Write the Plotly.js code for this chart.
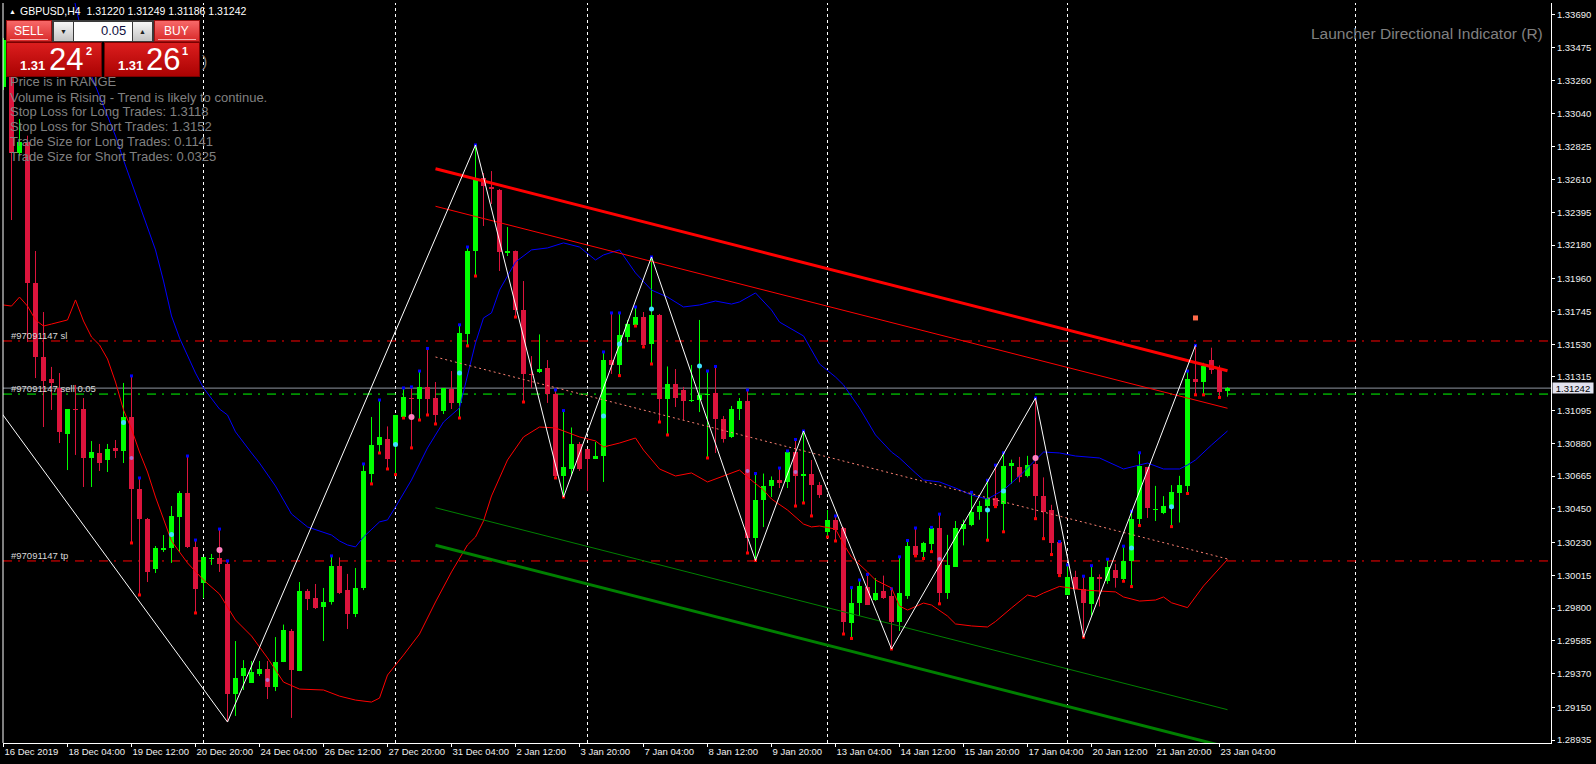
<!DOCTYPE html>
<html><head><meta charset="utf-8">
<script src="https://cdn.plot.ly/plotly-3.0.1.min.js"></script>
<style>html,body{margin:0;padding:0;background:#000;overflow:hidden}#chart{width:1596px;height:764px}</style>
</head><body><div id="chart"></div>
<script>
// ---------------- DATA (GBPUSD H4) ----------------
const xLabels = ["16 Dec 2019","18 Dec 04:00","19 Dec 12:00","20 Dec 20:00","24 Dec 04:00","26 Dec 12:00","27 Dec 20:00","31 Dec 04:00","2 Jan 12:00","3 Jan 20:00","7 Jan 04:00","8 Jan 12:00","9 Jan 20:00","13 Jan 04:00","14 Jan 12:00","15 Jan 20:00","17 Jan 04:00","20 Jan 12:00","21 Jan 20:00","23 Jan 04:00"];
const xLabelIdx = [0,8,16,24,32,40,48,56,64,72,80,88,96,104,112,120,128,136,144,152];
const yTickVals = [1.33690,1.33475,1.33260,1.33040,1.32825,1.32610,1.32395,1.32180,1.31960,1.31745,1.31530,1.31315,1.31095,1.30880,1.30665,1.30450,1.30230,1.30015,1.29800,1.29585,1.29370,1.29150,1.28935];

const openP = [1.33216,1.33511,1.32783,1.32856,1.31931,1.31446,1.31302,1.31243,1.30941,1.31105,1.31105,1.30784,1.30817,1.30771,1.30850,1.30830,1.31053,1.30581,1.30384,1.30056,1.30181,1.30194,1.30397,1.30555,1.30201,1.29965,1.30122,1.30129,1.30089,1.29237,1.29355,1.29312,1.29368,1.29401,1.29282,1.29446,1.29650,1.29387,1.29912,1.29866,1.29807,1.29840,1.30076,1.29918,1.29761,1.29932,1.30682,1.30869,1.30909,1.30869,1.31053,1.31177,1.31174,1.31250,1.31177,1.31095,1.31236,1.31145,1.31598,1.32141,1.32620,1.32561,1.32544,1.32131,1.32141,1.31754,1.31335,1.31348,1.31374,1.31204,1.30663,1.30712,1.30876,1.30843,1.30777,1.30797,1.31426,1.31394,1.31577,1.31656,1.31708,1.31531,1.31721,1.31171,1.31269,1.31230,1.31158,1.31164,1.31197,1.31213,1.31040,1.30922,1.31105,1.31158,1.30260,1.30509,1.30600,1.30640,1.30627,1.30823,1.30669,1.30682,1.30607,1.30299,1.30378,1.30322,1.29704,1.29831,1.29941,1.29855,1.29909,1.29880,1.29706,1.29880,1.30206,1.30170,1.30219,1.30322,1.29897,1.30070,1.30317,1.30342,1.30428,1.30467,1.30524,1.30482,1.30730,1.30724,1.30663,1.30744,1.30534,1.30440,1.30231,1.29885,1.30001,1.29927,1.29828,1.30001,1.29976,1.30053,1.29991,1.30112,1.30386,1.30724,1.30443,1.30423,1.30457,1.30556,1.30601,1.31304,1.31280,1.31428,1.31374,1.31220];
const highP = [1.33537,1.33557,1.33006,1.32897,1.32141,1.31741,1.31381,1.31341,1.31105,1.31263,1.31177,1.30895,1.30876,1.30876,1.30902,1.31276,1.31322,1.30653,1.30391,1.30207,1.30279,1.30469,1.30568,1.30797,1.30246,1.30135,1.30155,1.30318,1.30109,1.29584,1.29459,1.29453,1.29453,1.29453,1.29610,1.29692,1.29663,1.29971,1.29925,1.29958,1.29932,1.30142,1.30132,1.30024,1.30063,1.30745,1.31053,1.31164,1.30991,1.31066,1.31243,1.31250,1.31354,1.31502,1.31282,1.31243,1.31354,1.31657,1.32167,1.32836,1.32652,1.32665,1.32547,1.32298,1.32144,1.31944,1.31452,1.31594,1.31426,1.31230,1.31095,1.30984,1.30889,1.30843,1.30889,1.31479,1.31735,1.31735,1.31689,1.31774,1.31741,1.32102,1.31728,1.31384,1.31367,1.31250,1.31394,1.31689,1.31354,1.31384,1.31059,1.31125,1.31177,1.31230,1.30682,1.30682,1.30663,1.30718,1.30830,1.30905,1.30961,1.30771,1.30627,1.30443,1.30404,1.30331,1.29934,1.29984,1.30021,1.29997,1.30013,1.29927,1.30136,1.30243,1.30325,1.30234,1.30329,1.30416,1.30280,1.30371,1.30379,1.30559,1.30502,1.30638,1.30737,1.30818,1.30773,1.30791,1.30798,1.31177,1.30657,1.30477,1.30236,1.30083,1.30045,1.30009,1.30078,1.30021,1.30120,1.30090,1.30206,1.30435,1.30818,1.30725,1.30601,1.30534,1.30606,1.30667,1.31354,1.31522,1.31408,1.31507,1.31391,1.31249];
const lowP = [1.33196,1.32344,1.32770,1.31544,1.31308,1.30987,1.31099,1.30882,1.30705,1.30804,1.30594,1.30594,1.30699,1.30692,1.30784,1.30751,1.30227,1.29886,1.29971,1.30030,1.30168,1.30096,1.30168,1.30194,1.29768,1.29866,1.30083,1.30037,1.29053,1.29093,1.29263,1.29309,1.29355,1.29204,1.29256,1.29446,1.29080,1.29387,1.29787,1.29794,1.29584,1.29823,1.29892,1.29663,1.29741,1.29918,1.30614,1.30817,1.30712,1.30675,1.31046,1.30850,1.31033,1.31066,1.31007,1.31072,1.31105,1.31046,1.31519,1.31977,1.32305,1.32449,1.32010,1.32108,1.31708,1.31151,1.31243,1.31341,1.31145,1.30653,1.30528,1.30666,1.30699,1.30568,1.30777,1.30627,1.31335,1.31324,1.31544,1.31649,1.31512,1.31400,1.31020,1.30935,1.31118,1.31033,1.31151,1.31085,1.30784,1.30817,1.30885,1.30915,1.31033,1.30161,1.30112,1.30331,1.30528,1.30587,1.30587,1.30469,1.30489,1.30404,1.30522,1.30266,1.30240,1.29630,1.29601,1.29748,1.29820,1.29848,1.29860,1.29532,1.29650,1.29860,1.30142,1.30125,1.30170,1.29828,1.29860,1.30070,1.30211,1.30337,1.30379,1.30245,1.30465,1.30300,1.30614,1.30625,1.30657,1.30386,1.30255,1.30151,1.30013,1.29885,1.29922,1.29609,1.29749,1.29811,1.29959,1.29934,1.29976,1.29941,1.30341,1.30391,1.30371,1.30416,1.30334,1.30361,1.30551,1.31198,1.31198,1.31335,1.31181,1.31186];
const closeP = [1.33524,1.32786,1.32856,1.31931,1.31446,1.31289,1.31276,1.30955,1.31105,1.31099,1.30784,1.30823,1.30751,1.30843,1.30830,1.31053,1.30581,1.30384,1.30037,1.30194,1.30194,1.30404,1.30555,1.30201,1.29925,1.30135,1.30129,1.30089,1.29237,1.29342,1.29407,1.29381,1.29401,1.29282,1.29446,1.29656,1.29394,1.29912,1.29860,1.29800,1.29843,1.30076,1.29902,1.29761,1.29934,1.30699,1.30869,1.30922,1.30777,1.31066,1.31184,1.31171,1.31250,1.31171,1.31066,1.31243,1.31145,1.31604,1.32141,1.32620,1.32567,1.32547,1.32132,1.32138,1.31754,1.31335,1.31328,1.31367,1.31206,1.30663,1.30722,1.30878,1.30712,1.30777,1.30797,1.31426,1.31394,1.31590,1.31662,1.31708,1.31525,1.31721,1.31171,1.31269,1.31177,1.31158,1.31164,1.31197,1.31204,1.31040,1.30909,1.31105,1.31158,1.30260,1.30509,1.30600,1.30640,1.30620,1.30823,1.30666,1.30675,1.30607,1.30544,1.30378,1.30312,1.29712,1.29836,1.29947,1.29823,1.29902,1.29868,1.29706,1.29897,1.30206,1.30149,1.30226,1.30322,1.29897,1.30083,1.30322,1.30354,1.30433,1.30470,1.30524,1.30470,1.30730,1.30749,1.30657,1.30741,1.30534,1.30433,1.30226,1.30021,1.30001,1.29927,1.29836,1.30001,1.29994,1.30070,1.29996,1.30112,1.30386,1.30730,1.30453,1.30446,1.30470,1.30564,1.30606,1.31300,1.31280,1.31384,1.31362,1.31218,1.31242];

// moving-average style bands
const blueIdx = [8,9,10,11,12,13,14,15,16,17,18,19,20,21,22,24,25,27,28,29,31,32,34,36,38,41,42,43,44,45,47,48,49,51,53,55,57,58,59,60,61,62,64,66,68,70,72,74,75,77,79,81,83,85,87,89,91,92,94,96,97,100,102,104,105,107,109,111,112,114,115,117,119,121,123,125,127,130,132,134,137,140,143,145,147,148,149,151,153];
const blueVal = [1.33983,1.33754,1.33511,1.33288,1.33157,1.33026,1.32895,1.32737,1.32593,1.32443,1.32292,1.32148,1.31944,1.31715,1.31571,1.31341,1.31243,1.31105,1.31066,1.30955,1.30817,1.30751,1.30600,1.30417,1.30332,1.30279,1.30240,1.30214,1.30201,1.30266,1.30365,1.30378,1.30463,1.30640,1.30850,1.31020,1.31112,1.31328,1.31538,1.31702,1.31735,1.31885,1.32069,1.32148,1.32161,1.32194,1.32167,1.32082,1.32115,1.32148,1.31997,1.31885,1.31839,1.31774,1.31787,1.31813,1.31793,1.31807,1.31866,1.31754,1.31675,1.31584,1.31400,1.31315,1.31263,1.31112,1.30935,1.30823,1.30784,1.30686,1.30640,1.30627,1.30587,1.30541,1.30515,1.30574,1.30666,1.30823,1.30817,1.30797,1.30784,1.30712,1.30751,1.30712,1.30712,1.30738,1.30771,1.30869,1.30961];
const redIdx = [0,1,2,3,4,5,6,7,8,9,10,11,12,13,14,15,16,17,18,19,20,21,23,25,27,29,31,33,35,37,40,42,44,46,47,48,50,52,54,56,58,59,60,61,62,63,65,67,69,72,74,75,77,79,80,82,84,86,88,90,92,93,95,96,98,100,101,102,104,105,106,108,109,111,112,113,115,116,118,119,121,123,124,126,128,129,130,132,135,137,139,140,142,144,145,146,148,150,151,153];
const redVal = [1.31787,1.31780,1.31839,1.31780,1.31689,1.31649,1.31662,1.31675,1.31689,1.31820,1.31682,1.31577,1.31525,1.31433,1.31282,1.31099,1.30974,1.30823,1.30692,1.30528,1.30384,1.30240,1.30096,1.29984,1.29892,1.29722,1.29617,1.29473,1.29315,1.29269,1.29263,1.29223,1.29197,1.29184,1.29210,1.29361,1.29492,1.29630,1.29840,1.30037,1.30214,1.30266,1.30371,1.30535,1.30653,1.30771,1.30922,1.30987,1.30981,1.30922,1.30896,1.30856,1.30882,1.30915,1.30836,1.30712,1.30666,1.30686,1.30627,1.30666,1.30705,1.30659,1.30574,1.30515,1.30443,1.30351,1.30332,1.30338,1.30318,1.30220,1.30135,1.30037,1.29984,1.29932,1.29814,1.29787,1.29833,1.29820,1.29748,1.29696,1.29683,1.29676,1.29712,1.29801,1.29886,1.29873,1.29899,1.29942,1.29919,1.29912,1.29906,1.29873,1.29846,1.29853,1.29873,1.29835,1.29803,1.29945,1.30004,1.30119];

// zigzag pivots
const zzIdx = [-5,28,59,70,81,94,100,111,129,135,149];
const zzVal = [1.31420,1.29053,1.32836,1.30528,1.32102,1.30112,1.30961,1.29532,1.31177,1.29609,1.31522];

// regression channel
const chanIdx = [54,153];
const chanMid = [1.31446,1.30122];
const chanOuter = 0.01234;
const chanInner = 0.00988;

// fractal dots
const upDotIdx = [16,17,23,24,27,28,41,45,47,50,51,52,53,57,58,59,69,70,75,76,77,79,81,88,89,93,94,97,98,99,100,104,106,107,108,111,112,113,114,116,117,121,123,124,125,129,132,133,135,136,138,140,141,142,148,149];
const dnDotIdx = [16,17,24,46,47,48,49,50,51,52,53,54,57,58,59,64,65,69,70,77,79,80,81,82,83,88,93,94,99,100,101,103,104,105,106,111,114,115,116,117,123,124,125,129,130,131,132,135,140,141,142,146,148,149,150,152];
const cyanIdx = [15,21,49,57,75,77,81,87,123,125,141,146];
const cyanVal = [1.31016,1.30282,1.30872,1.31341,1.31059,1.31531,1.31761,1.31387,1.30443,1.30568,1.30194,1.30465];
const pinkIdx = [27,51,129];
const pinkVal = [1.30181,1.31053,1.30784];
const violetIdx = [16,33,93,99,117];
const violetVal = [1.30784,1.29329,1.30699,1.30692,1.30122];
const signalIdx = [149];
const signalVal = [1.31702];

// trade levels
const slLevel = 1.31551, tpLevel = 1.30109, openLevel = 1.31203, bidLevel = 1.31242;
const separatorIdx = [25,49,73,103,133,169];

// ---------------- DRAWING ----------------
const idx = openP.map((_, i) => i);
const BULL = '#00FF00', BEAR = '#DC143C';
const isBull = idx.map(i => closeP[i] >= openP[i]);
const minBody = 0.00007;

const bodyTrace = {
  type: 'bar', x: idx,
  base: idx.map(i => Math.min(openP[i], closeP[i])),
  y: idx.map(i => Math.max(Math.abs(closeP[i] - openP[i]), minBody)),
  width: 0.625,
  marker: { color: idx.map(i => isBull[i] ? BULL : BEAR), line: { width: 0 } },
  hoverinfo: 'skip'
};
function wick(flag, color) {
  const xs = [], ys = [];
  idx.forEach(i => { if (isBull[i] === flag) { xs.push(i, i, null); ys.push(lowP[i], highP[i], null); } });
  return { type: 'scatter', mode: 'lines', x: xs, y: ys, line: { color, width: 1 }, hoverinfo: 'skip' };
}
function line(x, y, color, width, dash) {
  return { type: 'scatter', mode: 'lines', x, y, line: { color, width, dash: dash || 'solid' }, hoverinfo: 'skip' };
}
function dots(x, y, color, size, symbol) {
  return { type: 'scatter', mode: 'markers', x, y, marker: { color, size, symbol: symbol || 'square', line: { width: 0 } }, hoverinfo: 'skip' };
}

const traces = [
  bodyTrace,
  wick(true, BULL), wick(false, BEAR),
  dots(upDotIdx, upDotIdx.map(i => highP[i]), '#0000FF', 3),
  dots(dnDotIdx, dnDotIdx.map(i => lowP[i]), '#FF0000', 3),
  line(blueIdx, blueVal, '#0000FF', 1),
  line(redIdx, redVal, '#FF0000', 1),
  line(chanIdx, chanMid.map(v => v + chanOuter), '#FF0000', 3),
  line(chanIdx, chanMid.map(v => v + chanInner), '#FF0000', 1),
  line(chanIdx, chanMid, '#FA8072', 1, '2px,3px'),
  line(chanIdx, chanMid.map(v => v - chanInner), '#008000', 1),
  line(chanIdx, chanMid.map(v => v - chanOuter), '#008000', 3),
  line(zzIdx, zzVal, '#FFFFFF', 1),
  dots(cyanIdx, cyanVal, '#40E0FF', 5, 'circle'),
  dots(pinkIdx, pinkVal, '#FF80C0', 6, 'circle'),
  dots(violetIdx, violetVal, '#B070D0', 4, 'circle'),
  dots(signalIdx, signalVal, '#FF6A4A', 5, 'square')
];

// pixel helpers for layout decorations
const PL = 3, PR = 1551, PT = 3, PB = 743;
const fx = x => (x - PL) / (PR - PL);
const fy = y => 1 - (y - PT) / (PB - PT);

const SANS = "'Liberation Sans',Arial,sans-serif";

const shapes = [];
separatorIdx.forEach(k => shapes.push({ type: 'line', xref: 'x', yref: 'paper', x0: k, x1: k, y0: 0, y1: 1, line: { color: '#FFFFFF', width: 1, dash: '3px,3px' }, layer: 'below' }));
const hline = (v, color, dash) => ({ type: 'line', xref: 'paper', yref: 'y', x0: 0, x1: 1, y0: v, y1: v, line: { color, width: 1, dash }, layer: 'below' });
shapes.push(hline(slLevel, '#FF0000', '9px,6px,2px,7px'));
shapes.push(hline(tpLevel, '#FF0000', '9px,6px,2px,7px'));
shapes.push(hline(openLevel, '#00FF00', '9px,6px,2px,7px'));
shapes.push(hline(bidLevel, '#8E96A0', 'solid'));
shapes.push({ type: 'line', xref: 'paper', yref: 'paper', x0: 0, x1: 0, y0: 0, y1: 1, line: { color: '#FFFFFF', width: 1 } });

function ann(text, x, y, o) {
  o = o || {};
  return Object.assign({ text, xref: 'paper', yref: 'paper', x: fx(x), y: fy(y), showarrow: false,
    xanchor: o.xa || 'left', yanchor: 'middle',
    font: { family: o.family || SANS, size: o.size || 10, color: o.color || '#FFFFFF' } }, o.extra || {});
}
const GRAY = '#808080';
const annotations = [
  ann('▲', 7, 11, { size: 7, color: '#FFFFFF' }),
  ann('GBPUSD,H4  1.31220 1.31249 1.31186 1.31242', 18, 11, { size: 10.5 }),
  ann(')', 200, 62, { size: 16, color: GRAY }),
  ann('Price is in RANGE', 8, 81, { size: 13, color: GRAY }),
  ann('Volume is Rising - Trend is likely to continue.', 8, 97, { size: 13, color: GRAY }),
  ann('Stop Loss for Long Trades: 1.3118', 8, 111.5, { size: 13, color: GRAY }),
  ann('Stop Loss for Short Trades: 1.3152', 8, 126.5, { size: 13, color: GRAY }),
  ann('Trade Size for Long Trades: 0.1141', 8, 141.5, { size: 13, color: GRAY }),
  ann('Trade Size for Short Trades: 0.0325', 8, 156.5, { size: 13, color: GRAY }),
  ann('Launcher Directional Indicator (R)', 1545, 33, { size: 15.5, color: GRAY, xa: 'right' }),
  ann('#97091147 sl', 9, 335.5, { size: 9.5, color: '#D8D8D8' }),
  ann('#97091147 sell 0.05', 9, 388.5, { size: 9.5, color: '#D8D8D8' }),
  ann('#97091147 tp', 9, 555.5, { size: 9.5, color: '#D8D8D8' }),
  ann('1.31242', 1573, 388.5, { xa: 'center', size: 9.5, color: '#000000', extra: { bgcolor: '#E2E2EE', width: 40, height: 10, borderpad: 0 } }),
  // trading panel texts
  ann('SELL', 29, 31, { xa: 'center', size: 12 }),
  ann('BUY', 176.5, 31, { xa: 'center', size: 12 }),
  ann('▼', 63.5, 31, { xa: 'center', size: 7, color: '#202020' }),
  ann('▲', 142, 31, { xa: 'center', size: 7, color: '#202020' }),
  ann('0.05', 128, 30.5, { xa: 'right', size: 13, color: '#101040' }),
  ann('<b>1.31</b>', 32, 65.5, { xa: 'center', size: 13 }),
  ann('24', 65.5, 59, { xa: 'center', size: 31 }),
  ann('<b>2</b>', 88.5, 51, { xa: 'center', size: 11 }),
  ann('<b>1.31</b>', 130.5, 65.5, { xa: 'center', size: 13 }),
  ann('26', 162.5, 59, { xa: 'center', size: 31 }),
  ann('<b>1</b>', 184.5, 51, { xa: 'center', size: 11 })
];

// panel background (gradients) as an svg image
const panelSvg = "<svg xmlns='http://www.w3.org/2000/svg' width='194' height='57'>" +
 "<defs>" +
 "<linearGradient id='b' x1='0' y1='0' x2='0' y2='1'><stop offset='0' stop-color='#F86A6A'/><stop offset='1' stop-color='#D82828'/></linearGradient>" +
 "<linearGradient id='p' x1='0' y1='0' x2='0' y2='1'><stop offset='0' stop-color='#DC1E1E'/><stop offset='1' stop-color='#AA0202'/></linearGradient>" +
 "<linearGradient id='g' x1='0' y1='0' x2='0' y2='1'><stop offset='0' stop-color='#F6F6F6'/><stop offset='1' stop-color='#C4C4C4'/></linearGradient>" +
 "</defs>" +
 "<rect x='0.5' y='0.5' width='45' height='21' fill='url(#b)' stroke='#9A1010'/>" +
 "<rect x='4' y='19' width='38' height='1' fill='#F8B0B0'/>" +
 "<rect x='46' y='0' width='102' height='22' fill='#3A3A3A'/>" +
 "<rect x='48' y='2' width='19' height='19' fill='url(#g)'/>" +
 "<rect x='68' y='2' width='58' height='19' fill='#FFFFFF'/>" +
 "<rect x='127' y='2' width='19' height='19' fill='url(#g)'/>" +
 "<rect x='148.5' y='0.5' width='45' height='21' fill='url(#b)' stroke='#9A1010'/>" +
 "<rect x='152' y='19' width='38' height='1' fill='#F8B0B0'/>" +
 "<rect x='0.5' y='22.5' width='95' height='34' fill='url(#p)' stroke='#7A0000'/>" +
 "<rect x='98.5' y='22.5' width='95' height='34' fill='url(#p)' stroke='#7A0000'/>" +
 "</svg>";
const images = [{
  source: 'data:image/svg+xml;charset=utf-8,' + encodeURIComponent(panelSvg),
  xref: 'paper', yref: 'paper', x: fx(6), y: fy(20), sizex: 194 / (PR - PL), sizey: 57 / (PB - PT),
  xanchor: 'left', yanchor: 'top', sizing: 'stretch', layer: 'above'
}];

const layout = {
  width: 1596, height: 764,
  margin: { l: PL, r: 1596 - PR, t: PT, b: 764 - PB, pad: 0 },
  paper_bgcolor: '#000000', plot_bgcolor: '#000000',
  showlegend: false, barmode: 'overlay', bargap: 0,
  xaxis: {
    range: [-0.0625, 193.4375], tickmode: 'array', tickvals: xLabelIdx, ticktext: xLabels,
    tickangle: 0, automargin: false,
    showgrid: false, zeroline: false, showline: true, linecolor: '#FFFFFF', linewidth: 1,
    ticks: 'outside', ticklen: 3, tickcolor: '#FFFFFF', ticklabelposition: 'outside right',
    tickfont: { family: SANS, size: 9.5, color: '#F0F0F0' }, fixedrange: true
  },
  yaxis: {
    side: 'right', range: [1.289156, 1.337667], tickmode: 'array', tickvals: yTickVals,
    ticktext: yTickVals.map(v => v.toFixed(5)), automargin: false,
    showgrid: false, zeroline: false, showline: true, linecolor: '#FFFFFF', linewidth: 1,
    ticks: 'outside', ticklen: 3, tickcolor: '#FFFFFF',
    tickfont: { family: SANS, size: 9.5, color: '#F0F0F0' }, fixedrange: true
  },
  shapes, annotations, images
};

Plotly.newPlot('chart', traces, layout, { staticPlot: true, displayModeBar: false });
</script>
</body></html>
